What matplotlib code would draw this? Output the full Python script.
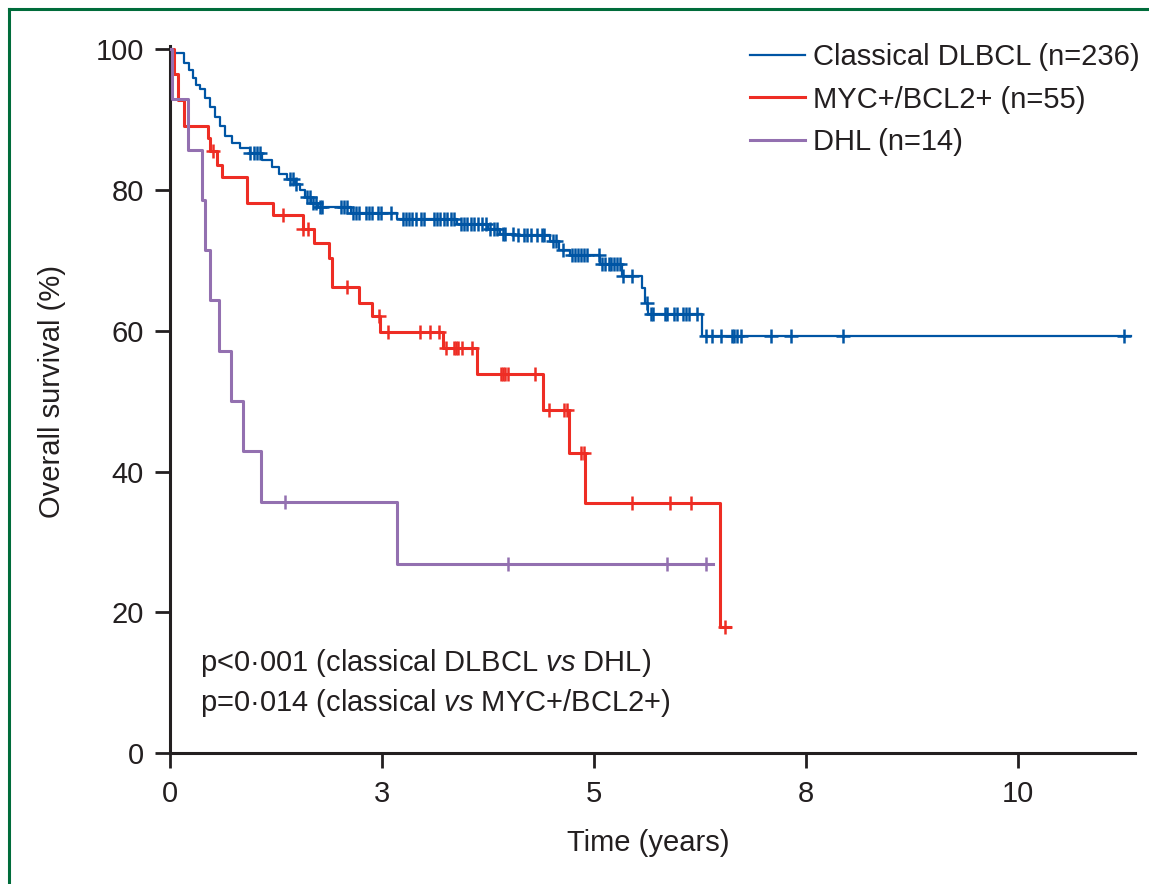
import numpy as np
import matplotlib.pyplot as plt
from matplotlib.lines import Line2D

plt.rcParams['font.family'] = ['Liberation Sans', 'DejaVu Sans']
plt.rcParams['mathtext.fontset'] = 'custom'
plt.rcParams['mathtext.it'] = 'Liberation Sans:italic'
plt.rcParams['mathtext.rm'] = 'Liberation Sans'

# Kaplan-Meier curves, time in years, survival in %
blue_t = [0.02, 0.17, 0.22, 0.27, 0.31, 0.35, 0.41, 0.47, 0.53, 0.59,
          0.65, 0.73, 0.83, 0.94, 1.08, 1.20, 1.29, 1.38, 1.47, 1.53,
          1.59, 1.66, 1.75, 2.13, 2.68, 3.38, 3.75, 3.89, 4.07, 4.48,
          4.59, 4.72, 5.07, 5.33, 5.57, 5.60, 5.64, 6.27]
blue_s = [99.4, 98.0, 97.0, 95.9, 94.9, 94.3, 93.0, 91.8, 90.4, 89.0,
          87.6, 86.6, 86.0, 85.3, 84.2, 83.3, 82.2, 81.6, 80.9, 80.0,
          79.0, 78.2, 77.6, 76.7, 75.9, 75.2, 74.4, 73.8, 73.6, 72.8,
          71.5, 70.7, 69.5, 67.8, 66.1, 64.0, 62.4, 59.2]
blue_c = [0.94, 0.99, 1.03, 1.06, 1.42, 1.45, 1.49, 1.62, 1.65, 1.69, 1.72, 1.77,
          1.79, 2.02, 2.05, 2.09, 2.16, 2.19, 2.23, 2.31, 2.35, 2.38, 2.45, 2.49,
          2.61, 2.75, 2.78, 2.82, 2.85, 2.90, 2.96, 3.00, 3.11, 3.15, 3.18, 3.23,
          3.27, 3.31, 3.35, 3.43, 3.47, 3.50, 3.55, 3.58, 3.63, 3.68, 3.73, 3.77,
          3.82, 3.86, 3.93, 3.95, 4.04, 4.10, 4.17, 4.21, 4.25, 4.33, 4.38, 4.41,
          4.52, 4.55, 4.63, 4.74, 4.78, 4.81, 4.85, 4.88, 4.92, 5.06, 5.09, 5.13,
          5.17, 5.20, 5.24, 5.27, 5.31, 5.34, 5.45, 5.62, 5.67, 5.70, 5.83, 5.86,
          5.94, 5.98, 6.05, 6.08, 6.12, 6.21, 6.32, 6.39, 6.50, 6.62, 6.65, 6.69,
          6.73, 7.09, 7.32, 7.94, 11.25]
blue_end = 11.33

red_t = [0.05, 0.09, 0.17, 0.45, 0.47, 0.55, 0.61, 0.91, 1.21, 1.57, 1.70,
         1.87, 1.91, 2.23, 2.38, 2.48, 3.22, 3.62, 4.40, 4.70, 4.89, 6.49]
red_s = [96.4, 92.7, 89.1, 87.3, 85.5, 83.6, 81.8, 78.2, 76.4, 74.4, 72.4,
         70.3, 66.2, 64.0, 62.1, 59.8, 57.5, 53.8, 48.8, 42.6, 35.6, 17.9]
red_c = [0.51, 1.33, 1.57, 1.63, 2.09, 2.46, 2.57, 2.95, 3.07, 3.17, 3.25, 3.35,
         3.37, 3.40, 3.44, 3.56, 3.90, 3.92, 3.95, 3.99, 4.30, 4.47, 4.65, 4.68,
         4.85, 4.88, 5.45, 5.90, 6.14, 6.54]
red_end = 6.60

pur_t = [0.02, 0.21, 0.38, 0.41, 0.47, 0.58, 0.72, 0.86, 1.07, 2.68]
pur_s = [92.9, 85.7, 78.6, 71.4, 64.3, 57.1, 50.0, 42.9, 35.7, 26.8]
pur_c = [1.36, 3.98, 5.86, 6.32]
pur_end = 6.40

labels = ['Classical DLBCL (n=236)', 'MYC+/BCL2+ (n=55)', 'DHL (n=14)']
colors = ['#0055a4', '#ee2d24', '#9370b0']
widths = [1.6, 2.2, 2.2]

xticks = [0, 2.5, 5, 7.5, 10]
xticklabels = ['0', '3', '5', '8', '10']
yticks = [0, 20, 40, 60, 80, 100]

ink = '#231f20'
fs = 21

fig = plt.figure(figsize=(11.49, 8.84), dpi=100)
ax = fig.add_axes([0.148, 0.148, 0.840, 0.8005])

groups = [(blue_t, blue_s, blue_c, blue_end),
          (red_t, red_s, red_c, red_end),
          (pur_t, pur_s, pur_c, pur_end)]

for (t, s, c, end), lab, col, lw in zip(groups, labels, colors, widths):
    tt = np.r_[0, t, end]
    ss = np.r_[100, s, s[-1]]
    ax.step(tt, ss, where='post', color=col, lw=lw, label=lab, zorder=3)
    # censor marks sit on the curve
    idx = np.searchsorted(tt, c, side='right') - 1
    ax.plot(c, ss[idx], ls='none', marker='+', ms=10, mew=1.8, color=col, zorder=4)

ax.set_xlim(0, 11.38)
ax.set_ylim(0, 100.5)
ax.set_xticks(xticks)
ax.set_xticklabels(xticklabels)
ax.set_yticks(yticks)

for sp in ['top', 'right']:
    ax.spines[sp].set_visible(False)
for sp in ['left', 'bottom']:
    ax.spines[sp].set_linewidth(2.2)
    ax.spines[sp].set_color(ink)
ax.tick_params(length=11, width=2, color=ink, labelcolor=ink, labelsize=fs, pad=8)

leg = ax.legend(loc='upper left', bbox_to_anchor=(750 / 1149, 1 - 43 / 884),
                bbox_transform=fig.transFigure, frameon=False, fontsize=fs,
                borderpad=0, borderaxespad=0, handlelength=1.9,
                handletextpad=0.27, labelspacing=0.5)
for txt in leg.get_texts():
    txt.set_color(ink)

fig.text(52 / 1149, 1 - 391 / 884, 'Overall survival (%)', rotation=90,
         ha='center', va='center', fontsize=fs, color=ink)
fig.text(648 / 1149, 1 - 843 / 884, 'Time (years)', ha='center', va='center',
         fontsize=fs, color=ink)
fig.text(200 / 1149, 1 - 663 / 884, 'p<0·001 (classical DLBCL $\\it{vs}$ DHL)',
         ha='left', va='center', fontsize=fs, color=ink)
fig.text(200 / 1149, 1 - 703 / 884, 'p=0·014 (classical $\\it{vs}$ MYC+/BCL2+)',
         ha='left', va='center', fontsize=fs, color=ink)

# green frame on left and top edge
fig.add_artist(Line2D([9 / 1149, 9 / 1149], [0, 1 - 9 / 884], color='#006c3b', lw=2.2))
fig.add_artist(Line2D([9 / 1149, 1], [1 - 9 / 884, 1 - 9 / 884], color='#006c3b', lw=2.2))

fig.savefig('out.png', dpi=100)
